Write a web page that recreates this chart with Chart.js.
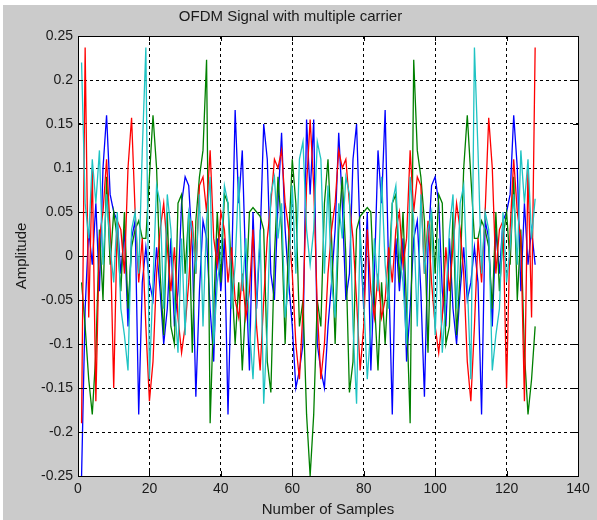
<!DOCTYPE html>
<html>
<head>
<meta charset="utf-8">
<script src="https://cdn.jsdelivr.net/npm/chart.js@4/dist/chart.umd.min.js"></script>
<style>
  html, body { margin: 0; padding: 0; background: #fff; }
  canvas { display: block; }
</style>
</head>
<body>
<canvas id="ofdmChart" width="597" height="520"></canvas>
<script>
  // sample index 1..128
  var samples = Array.from({ length: 128 }, function (_, i) { return i + 1; });

  var carrierBlue = [
    -0.25, -0.06, 0.03, -0.01, 0.06, -0.04, 0.10, 0.16, 0.07, 0.05,
    0.04, -0.02, 0.03, -0.08, 0.02, 0.04, -0.18, -0.03, 0.01, -0.03,
    -0.05, 0.01, -0.04, -0.10, -0.06, 0.02, -0.08, -0.04, 0.06, 0.09,
    0.08, 0.01, -0.16, -0.04, 0.04, 0.02, -0.06, -0.12, 0.02, -0.04,
    0.02, -0.18, -0.02, 0.166, 0.06, 0.12, -0.02, -0.13, 0.05, -0.06,
    0.02, 0.15, 0.11, -0.02, -0.05, 0.06, 0.14, 0.03, -0.03, -0.08,
    -0.15, -0.13, -0.10, 0.155, 0.07,
    0.155, -0.10, -0.13, -0.15, -0.08, -0.03, 0.03, 0.14, 0.06, -0.05,
    -0.02, 0.11, 0.15, 0.02, -0.06, 0.05, -0.13, -0.02, 0.12, 0.06,
    0.166, -0.02, -0.18, 0.02, -0.04, 0.02, -0.12, -0.06, 0.02, 0.04,
    -0.04, -0.16, 0.01, 0.08, 0.09, 0.06, -0.04, -0.08, 0.02, -0.06,
    -0.10, -0.04, 0.01, -0.05, -0.03, 0.01, -0.03, -0.18, 0.04, 0.02,
    -0.08, 0.03, -0.02, 0.04, 0.05, 0.07, 0.16, 0.10, -0.04, 0.06,
    -0.01, 0.03, -0.01
  ];

  var carrierGreen = [
    -0.03, -0.08, -0.14, -0.18, -0.11, 0.03, -0.05, 0.09, -0.01, 0.05,
    0.02, -0.04, 0.05, -0.06, 0.01, 0.03, 0.04, 0.02, 0.02, 0.09,
    0.16, 0.10, -0.02, -0.09, 0.05, -0.08, -0.10, 0.06, 0.07, -0.02,
    0.05, -0.11, 0.04, 0.09, 0.12, 0.223, -0.19, -0.06, 0.05, -0.03,
    0.07, 0.06, -0.02, -0.10, -0.03, -0.13, -0.05, 0.05, 0.055, 0.05,
    0.045, 0.03, -0.12, -0.155, 0.00, 0.09, 0.03, -0.10, 0.02, 0.11,
    0.06, -0.08, -0.05, -0.18, -0.25,
    -0.18, -0.05, -0.08, 0.06, 0.11, 0.02, -0.10, 0.03, 0.09, 0.00,
    -0.155, -0.12, 0.03, 0.045, 0.05, 0.055, 0.05, -0.05, -0.13, -0.03,
    -0.10, -0.02, 0.06, 0.07, -0.03, 0.05, -0.06, -0.19, 0.223, 0.12,
    0.09, 0.04, -0.11, 0.05, -0.02, 0.07, 0.06, -0.10, -0.08, 0.05,
    -0.09, -0.02, 0.10, 0.16, 0.09, 0.02, 0.02, 0.04, 0.03, 0.01,
    -0.06, 0.05, -0.04, 0.02, 0.05, -0.01, 0.09, -0.05, 0.03, -0.11,
    -0.18, -0.14, -0.08
  ];

  var carrierRed = [
    -0.19, 0.237, -0.07, 0.10, -0.165, 0.02, 0.05, 0.11, 0.03, -0.15,
    0.04, 0.03, -0.02, 0.10, 0.157, 0.05, -0.03, 0.02, -0.08, -0.165,
    -0.12, -0.02, 0.03, 0.06, 0.01, -0.04, 0.01, -0.07, -0.11, -0.08,
    -0.03, 0.04, -0.02, 0.08, 0.09, 0.05, 0.12, 0.02, -0.01, 0.05,
    0.03, -0.03, 0.01, -0.05, -0.07, -0.02, -0.07, -0.04, 0.03, -0.08,
    -0.13, -0.05, 0.02, 0.06, 0.11, 0.10, 0.12, 0.06, 0.03, -0.02,
    -0.10, -0.14, -0.06, 0.08, 0.155,
    0.08, -0.06, -0.14, -0.10, -0.02, 0.03, 0.06, 0.12, 0.10, 0.11,
    0.06, 0.02, -0.05, -0.13, -0.08, 0.03, -0.04, -0.07, -0.02, -0.07,
    -0.05, 0.01, -0.03, 0.03, 0.05, -0.01, 0.02, 0.12, 0.05, 0.09,
    0.08, -0.02, 0.04, -0.03, -0.08, -0.11, -0.07, 0.01, -0.04, 0.01,
    0.06, 0.03, -0.02, -0.12, -0.165, -0.08, 0.02, -0.03, 0.05, 0.157,
    0.10, -0.02, 0.03, 0.04, -0.15, 0.03, 0.11, 0.05, 0.02, -0.165,
    0.10, -0.07, 0.237
  ];

  var carrierCyan = [
    0.22, 0.06, 0.02, 0.11, 0.06, 0.12, -0.01, 0.07, 0.01, -0.03,
    0.05, -0.06, -0.09, -0.13, 0.03, 0.05, -0.02, 0.12, 0.237, -0.14,
    -0.03, 0.08, 0.06, -0.06, 0.07, 0.03, -0.05, -0.11, 0.02, -0.09,
    0.05, 0.03, -0.02, 0.07, -0.08, 0.04, 0.09, -0.10, -0.03, 0.00,
    0.08, 0.06, -0.06, -0.01, 0.09, -0.04, 0.02, -0.08, -0.14, -0.05,
    0.03, -0.168, -0.08, 0.07, 0.09, 0.02, 0.06, -0.07, -0.03, 0.08,
    -0.02, 0.11, 0.13, 0.03, -0.01,
    0.03, 0.13, 0.11, -0.02, 0.08, -0.03, -0.07, 0.06, 0.02, 0.09,
    0.07, -0.08, -0.168, 0.03, -0.05, -0.14, -0.08, 0.02, -0.04, 0.09,
    -0.01, -0.06, 0.06, 0.08, 0.00, -0.03, -0.10, 0.09, 0.04, -0.08,
    0.07, -0.02, 0.03, 0.05, -0.09, 0.02, -0.11, -0.05, 0.03, 0.07,
    -0.06, 0.06, 0.08, -0.03, -0.14, 0.237, 0.12, -0.02, 0.05, 0.03,
    -0.13, -0.09, -0.06, 0.05, -0.03, 0.01, 0.07, -0.01, 0.12, 0.06,
    0.11, 0.02, 0.065
  ];

  var xTicks = [0, 20, 40, 60, 80, 100, 120, 140];
  var yTicks = [-0.25, -0.2, -0.15, -0.1, -0.05, 0, 0.05, 0.1, 0.15, 0.2, 0.25];

  function points(values) {
    return values.map(function (v, i) { return { x: samples[i], y: v }; });
  }

  function series(label, values, color, order) {
    return {
      label: label,
      data: points(values),
      borderColor: color,
      borderWidth: 1.3,
      pointRadius: 0,
      tension: 0,
      fill: false,
      order: order
    };
  }

  // gray figure background with thin white strip top/left
  var figureBg = {
    id: 'figureBg',
    beforeDraw: function (chart) {
      var ctx = chart.ctx;
      ctx.save();
      ctx.fillStyle = '#ffffff';
      ctx.fillRect(0, 0, chart.width, chart.height);
      ctx.fillStyle = '#cbcbcb';
      ctx.fillRect(3, 5, chart.width - 3, chart.height - 5);
      var a = chart.chartArea;
      ctx.fillStyle = '#ffffff';
      ctx.fillRect(a.left, a.top, a.right - a.left, a.bottom - a.top);
      ctx.restore();
    }
  };

  // box around axes plus inward tick marks, matlab style
  var axesBox = {
    id: 'axesBox',
    afterDraw: function (chart) {
      var ctx = chart.ctx;
      var a = chart.chartArea;
      var xs = chart.scales.x, ys = chart.scales.y;
      ctx.save();
      ctx.strokeStyle = '#000';
      ctx.lineWidth = 1;
      ctx.setLineDash([]);
      ctx.strokeRect(Math.round(a.left) + 0.5, Math.round(a.top) + 0.5,
        Math.round(a.right - a.left), Math.round(a.bottom - a.top));
      ctx.beginPath();
      xTicks.forEach(function (t) {
        var px = Math.round(xs.getPixelForValue(t)) + 0.5;
        ctx.moveTo(px, a.bottom); ctx.lineTo(px, a.bottom - 5);
        ctx.moveTo(px, a.top); ctx.lineTo(px, a.top + 5);
      });
      yTicks.forEach(function (t) {
        var py = Math.round(ys.getPixelForValue(t)) + 0.5;
        ctx.moveTo(a.left, py); ctx.lineTo(a.left + 5, py);
        ctx.moveTo(a.right, py); ctx.lineTo(a.right - 5, py);
      });
      ctx.stroke();
      ctx.restore();
    }
  };

  var font = 'Liberation Sans, Arial, sans-serif';

  new Chart(document.getElementById('ofdmChart'), {
    type: 'line',
    data: {
      datasets: [
        series('carrier 1', carrierBlue, '#0000ff', 3),
        series('carrier 2', carrierGreen, '#008000', 2),
        series('carrier 3', carrierRed, '#ff0000', 1),
        series('carrier 4', carrierCyan, '#1fc3c3', 0)
      ]
    },
    options: {
      responsive: false,
      devicePixelRatio: 1,
      animation: false,
      layout: { padding: { left: 3, top: 5, right: 19, bottom: 0 } },
      plugins: {
        legend: { display: false },
        tooltip: { enabled: false },
        title: {
          display: true,
          text: 'OFDM Signal with multiple carrier',
          color: '#1a1a1a',
          font: { family: font, size: 15, weight: 'normal' },
          padding: { top: 3, bottom: 10 }
        }
      },
      scales: {
        x: {
          type: 'linear',
          min: 0,
          max: 140,
          afterFit: function (s) { s.height = 44; },
          afterBuildTicks: function (s) { s.ticks = xTicks.map(function (v) { return { value: v }; }); },
          ticks: { color: '#1a1a1a', font: { family: font, size: 14 }, padding: 5, maxRotation: 0 },
          grid: { color: '#000', lineWidth: 1, drawTicks: false },
          border: { display: false, dash: [3, 3] },
          title: {
            display: true,
            text: 'Number of Samples',
            color: '#1a1a1a',
            font: { family: font, size: 15 },
            padding: { top: 0, bottom: 1 }
          }
        },
        y: {
          min: -0.25,
          max: 0.25,
          afterFit: function (s) { s.width = 75; },
          afterBuildTicks: function (s) { s.ticks = yTicks.map(function (v) { return { value: v }; }); },
          ticks: {
            color: '#1a1a1a',
            font: { family: font, size: 14 },
            padding: 5,
            callback: function (v) { return String(Number(Number(v).toFixed(2))); }
          },
          grid: { color: '#000', lineWidth: 1, drawTicks: false },
          border: { display: false, dash: [3, 3] },
          title: {
            display: true,
            text: 'Amplitude',
            color: '#1a1a1a',
            font: { family: font, size: 15 },
            padding: { top: 10, bottom: 0 }
          }
        }
      }
    },
    plugins: [figureBg, axesBox]
  });
</script>
</body>
</html>
